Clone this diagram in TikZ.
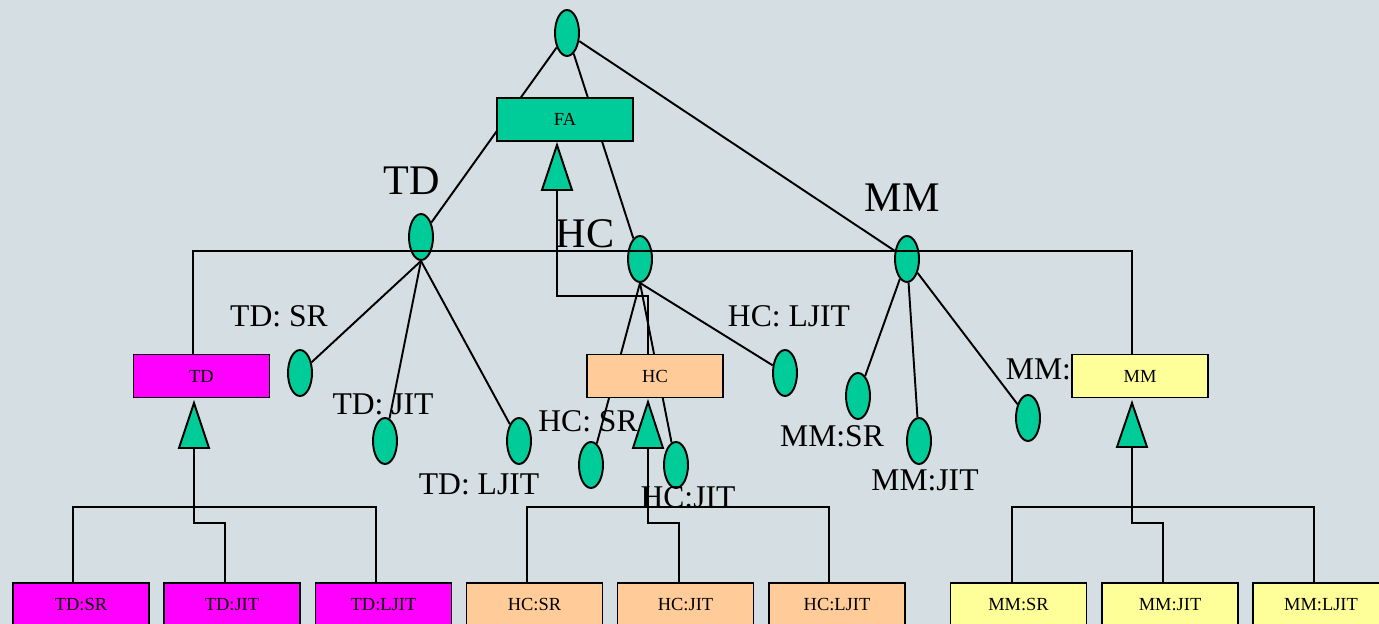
\documentclass[tikz,border=0pt]{standalone}
\usepackage{fontspec}
\setmainfont{Liberation Serif}
\usetikzlibrary{shapes.geometric}
\definecolor{bgBlue}{RGB}{213,223,227}
\definecolor{faGreen}{RGB}{0,204,153}
\definecolor{tdPink}{RGB}{255,0,255}
\definecolor{hcPeach}{RGB}{255,204,153}
\definecolor{mmYellow}{RGB}{255,255,153}
\begin{document}
\begin{tikzpicture}[x=0.02cm,y=-0.02cm,line width=1.1pt,
    oval/.style={ellipse,draw,fill=faGreen,minimum width=0.48cm,minimum height=0.92cm,inner sep=0pt},
    classbox/.style={rectangle,draw,minimum width=2.72cm,minimum height=0.86cm,inner sep=0pt,font=\fontsize{10.5}{12}\selectfont},
    leafbox/.style={classbox,minimum height=0.88cm},
    bigLabel/.style={font=\fontsize{24}{28}\selectfont,inner sep=0pt,anchor=base},
    midLabel/.style={font=\fontsize{18}{21}\selectfont,inner sep=0pt,anchor=base},
    triag/.style={draw,fill=faGreen,line join=miter}]
    \useasboundingbox (0,0) rectangle (1379,624);
    \fill[bgBlue] (0,0) rectangle (1379,624);
    \clip (0,0) rectangle (1379,624);
    % ovals
    \node[oval] (top) at (567,33) {};
    \node[oval] (tdE) at (421,237) {};
    \node[oval] (hcE) at (640,259) {};
    \node[oval] (mmE) at (907,259) {};
    \node[oval] (tdSrE) at (300,373) {};
    \node[oval] (tdJitE) at (385,441) {};
    \node[oval] (tdLjitE) at (519,441) {};
    \node[oval] (hcSrE) at (591,465) {};
    \node[oval] (hcJitE) at (676,465) {};
    \node[oval] (hcLjitE) at (785,373) {};
    \node[oval] (mmSrE) at (858,396) {};
    \node[oval] (mmJitE) at (919,441) {};
    \node[oval] (mmLjitE) at (1028,418) {};
    \draw (top) -- (tdE);
    \draw (top) -- (hcE);
    \draw (top) -- (mmE);
    \draw (tdE.south) -- (tdSrE);
    \draw (tdE.south) -- (tdJitE);
    \draw (tdE.south) -- (tdLjitE);
    \draw (hcE.south) -- (hcSrE);
    \draw (hcE.south) -- (hcJitE);
    \draw (hcE.south) -- (hcLjitE);
    \draw (mmE) -- (mmSrE);
    \draw (mmE) -- (mmJitE);
    \draw (mmE) -- (mmLjitE);
    % labels
    \node[bigLabel] (tdL) at (412,195) {TD};
    \node[bigLabel] (hcL) at (585,248) {HC};
    \node[bigLabel] (mmL) at (902,212) {MM};
    \node[midLabel] (tdSrL) at (279,327) {TD: SR};
    \node[midLabel] (tdJitL) at (383,415) {TD: JIT};
    \node[midLabel] (tdLjitL) at (479,495) {TD: LJIT};
    \node[midLabel] (hcSrL) at (588,432) {HC: SR};
    \node[midLabel] (hcJitL) at (688,507) {HC:JIT};
    \node[midLabel] (hcLjitL) at (789,327) {HC: LJIT};
    \node[midLabel] (mmSrL) at (832,447) {MM:SR};
    \node[midLabel] (mmJitL) at (925,491) {MM:JIT};
    \node[midLabel,anchor=base west] (mmLjitL) at (1005,380) {MM:};
    % classes
    \node[classbox,fill=faGreen] (faR) at (565,119.5) {FA};
    \node[classbox,fill=tdPink] (tdR) at (201.5,376) {TD};
    \node[classbox,fill=hcPeach] (hcR) at (655,376) {HC};
    \node[classbox,fill=mmYellow] (mmR) at (1140,376) {MM};
    \node[leafbox,fill=tdPink] (tdSrB) at (81,605) {TD:SR};
    \node[leafbox,fill=tdPink] (tdJitB) at (232,605) {TD:JIT};
    \node[leafbox,fill=tdPink] (tdLjitB) at (383.5,605) {TD:LJIT};
    \node[leafbox,fill=hcPeach] (hcSrB) at (534.5,605) {HC:SR};
    \node[leafbox,fill=hcPeach] (hcJitB) at (685.5,605) {HC:JIT};
    \node[leafbox,fill=hcPeach] (hcLjitB) at (837,605) {HC:LJIT};
    \node[leafbox,fill=mmYellow] (mmSrB) at (1018.5,605) {MM:SR};
    \node[leafbox,fill=mmYellow] (mmJitB) at (1170,605) {MM:JIT};
    \node[leafbox,fill=mmYellow] (mmLjitB) at (1321,605) {MM:LJIT};
    % inheritance
    \coordinate (faTb) at (557,190);
    \coordinate (tdTb) at (194,448);
    \coordinate (hcTb) at (648,448);
    \coordinate (mmTb) at (1132,447);
    \coordinate (hcJog) at (648,296);
    \coordinate (upL) at (193,251);
    \coordinate (upR) at (1132,251);
    \draw (faTb) |- (hcJog) -- (hcJog |- hcR.north);
    \draw (upL |- tdR.north) -- (upL) -- (upR) -- (upR |- mmR.north);
    \coordinate (tdJog) at (225,523);
    \coordinate (tdBusL) at (73,507);
    \coordinate (tdBusR) at (376,507);
    \draw (tdTb) |- (tdJog) -- (tdJog |- tdJitB.north);
    \draw (tdBusL |- tdSrB.north) -- (tdBusL) -- (tdBusR) -- (tdBusR |- tdLjitB.north);
    \coordinate (hcJog2) at (679,523);
    \coordinate (hcBusL) at (527,507);
    \coordinate (hcBusR) at (829,507);
    \draw (hcTb) |- (hcJog2) -- (hcJog2 |- hcJitB.north);
    \draw (hcBusL |- hcSrB.north) -- (hcBusL) -- (hcBusR) -- (hcBusR |- hcLjitB.north);
    \coordinate (mmJog) at (1163,523);
    \coordinate (mmBusL) at (1012,507);
    \coordinate (mmBusR) at (1314,507);
    \draw (mmTb) |- (mmJog) -- (mmJog |- mmJitB.north);
    \draw (mmBusL |- mmSrB.north) -- (mmBusL) -- (mmBusR) -- (mmBusR |- mmLjitB.north);
    \filldraw[triag] (faTb) -- ++(-15,0) -- ++(15,-45) -- ++(15,45) -- cycle;
    \filldraw[triag] (tdTb) -- ++(-15,0) -- ++(15,-45) -- ++(15,45) -- cycle;
    \filldraw[triag] (hcTb) -- ++(-15,0) -- ++(15,-46) -- ++(15,46) -- cycle;
    \filldraw[triag] (mmTb) -- ++(-15,0) -- ++(15,-44) -- ++(15,44) -- cycle;
\end{tikzpicture}
\end{document}
